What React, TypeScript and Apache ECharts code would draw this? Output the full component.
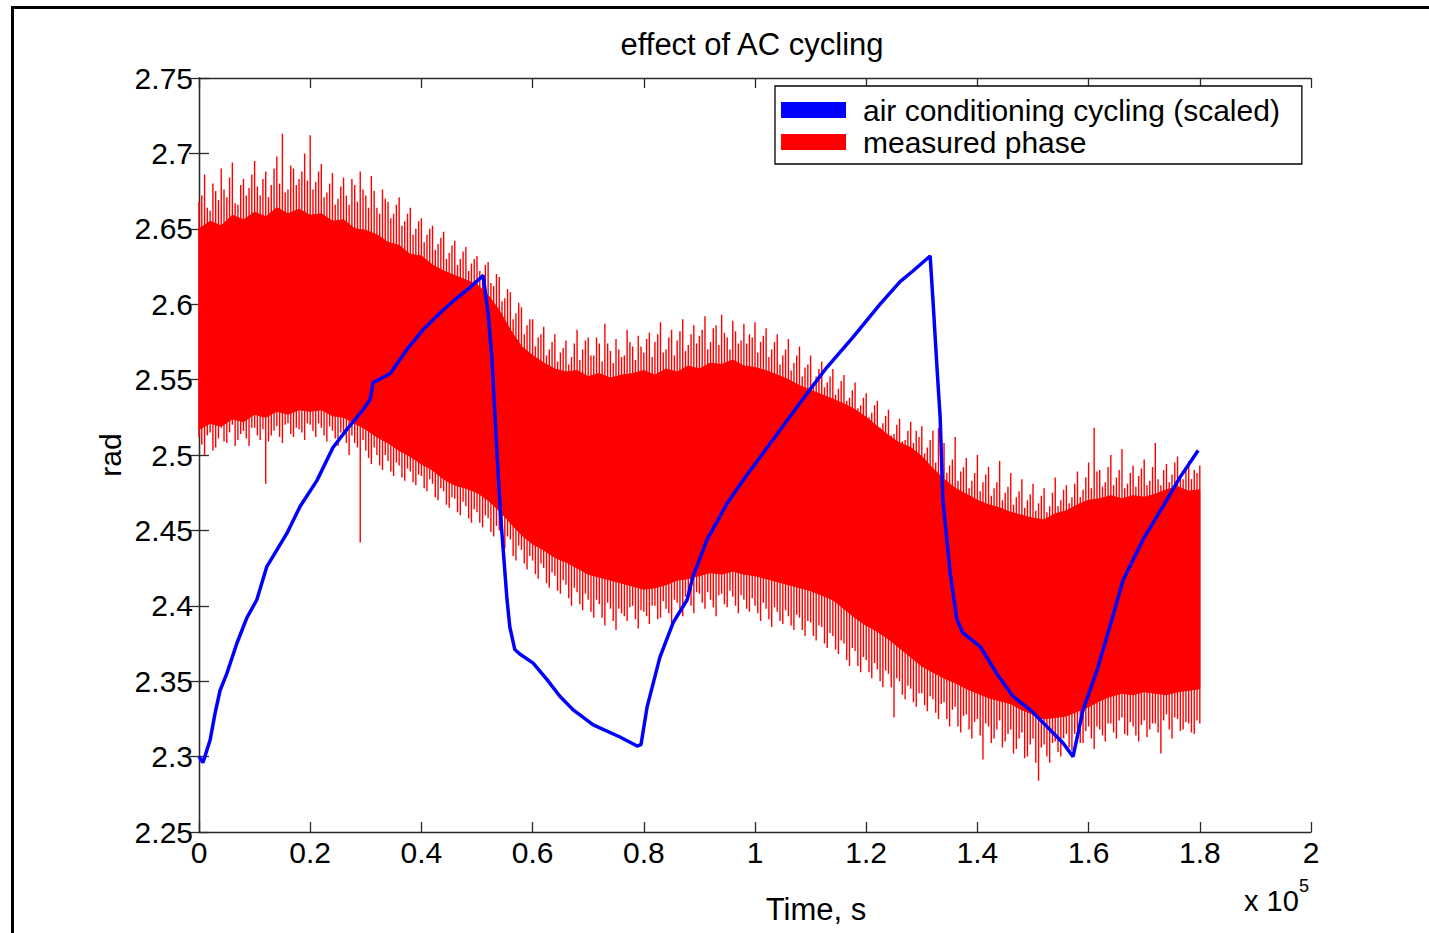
import { useEffect, useRef } from "react";
import * as echarts from "echarts";

const FONT = "'Liberation Sans', Arial, Helvetica, sans-serif";

// x values are in units of 1e5 s
const X_MIN = 0;
const X_MAX = 2;
const X_STEP = 0.2;
const Y_MIN = 2.25;
const Y_MAX = 2.75;
const Y_STEP = 0.05;

// Air conditioning cycling (scaled) — blue trace
const BLUE_T = [
  0.0, 0.007, 0.02, 0.029, 0.038, 0.05, 0.068, 0.086, 0.104, 0.122,
  0.158, 0.182, 0.212, 0.241, 0.266, 0.295, 0.308, 0.313, 0.344, 0.374,
  0.403, 0.433, 0.457, 0.487, 0.511, 0.52, 0.527, 0.536, 0.543, 0.554,
  0.559, 0.568, 0.577, 0.601, 0.626, 0.649, 0.673, 0.709, 0.757, 0.788,
  0.795, 0.806, 0.829, 0.853, 0.878, 0.888, 0.914, 0.95, 0.978, 1.022,
  1.058, 1.094, 1.129, 1.176, 1.225, 1.261, 1.284, 1.315, 1.32, 1.327,
  1.333, 1.338, 1.351, 1.363, 1.374, 1.405, 1.435, 1.464, 1.495, 1.525,
  1.554, 1.572, 1.59, 1.615, 1.638, 1.662, 1.698, 1.734, 1.764, 1.797,
];
const BLUE_V = [
  2.3, 2.296, 2.311, 2.329, 2.344, 2.355, 2.375, 2.392, 2.404, 2.426,
  2.448, 2.466, 2.483, 2.505, 2.517, 2.53, 2.537, 2.548, 2.554, 2.57,
  2.583, 2.594, 2.602, 2.611, 2.619, 2.594, 2.563, 2.501, 2.457, 2.404,
  2.386, 2.371, 2.368, 2.362, 2.351, 2.34, 2.331, 2.321, 2.313, 2.307,
  2.308, 2.333, 2.366, 2.389, 2.404, 2.419, 2.444, 2.468, 2.483, 2.505,
  2.523, 2.541, 2.558, 2.578, 2.6, 2.615, 2.622, 2.632, 2.603, 2.56,
  2.525, 2.47, 2.422, 2.391, 2.382, 2.373, 2.355, 2.34, 2.331, 2.32,
  2.309, 2.3, 2.331, 2.357, 2.386, 2.417, 2.444, 2.466, 2.485, 2.503,
];

// Measured phase — dense body of the oscillation, sampled every 0.02
const BODY_T = Array.from({ length: 91 }, (_, i) => +(i * 0.02).toFixed(2));
const BODY_TOP = [
  2.650, 2.655, 2.652, 2.659, 2.656, 2.661, 2.658, 2.664, 2.660, 2.663,
  2.659, 2.660, 2.655, 2.656, 2.650, 2.649, 2.646, 2.641, 2.639, 2.633,
  2.632, 2.626, 2.622, 2.619, 2.616, 2.613, 2.606, 2.596, 2.583, 2.572,
  2.566, 2.561, 2.557, 2.555, 2.556, 2.552, 2.554, 2.551, 2.553, 2.554,
  2.556, 2.553, 2.557, 2.555, 2.559, 2.557, 2.561, 2.560, 2.563, 2.559,
  2.558, 2.556, 2.553, 2.550, 2.546, 2.543, 2.540, 2.537, 2.534, 2.530,
  2.525, 2.519, 2.513, 2.508, 2.505, 2.499, 2.491, 2.484, 2.478, 2.474,
  2.470, 2.467, 2.465, 2.462, 2.460, 2.458, 2.457, 2.461, 2.463, 2.467,
  2.470, 2.471, 2.473, 2.471, 2.473, 2.472, 2.474, 2.477, 2.479, 2.476,
  2.477,
];
const BODY_BOT = [
  2.517, 2.521, 2.519, 2.524, 2.522, 2.527, 2.525, 2.529, 2.527, 2.530,
  2.529, 2.530, 2.526, 2.525, 2.521, 2.517, 2.512, 2.508, 2.503, 2.499,
  2.494, 2.490, 2.484, 2.480, 2.478, 2.475, 2.470, 2.463, 2.455, 2.447,
  2.441, 2.437, 2.432, 2.429, 2.425, 2.421, 2.419, 2.417, 2.415, 2.413,
  2.411, 2.412, 2.414, 2.417, 2.418, 2.420, 2.422, 2.421, 2.423, 2.421,
  2.420, 2.418, 2.416, 2.414, 2.412, 2.410, 2.407, 2.404, 2.398, 2.392,
  2.387, 2.383, 2.378, 2.372, 2.366, 2.360, 2.356, 2.352, 2.349, 2.345,
  2.342, 2.339, 2.337, 2.335, 2.331, 2.328, 2.325, 2.326, 2.327, 2.330,
  2.333, 2.337, 2.340, 2.342, 2.341, 2.343, 2.342, 2.341, 2.343, 2.344,
  2.345,
];

// Measured phase — oscillation extremes (spikes), sampled every 0.01
const SPIKE_T = Array.from({ length: 181 }, (_, i) => +(i * 0.01).toFixed(2));
const SPIKE_HI = [
  2.668, 2.686, 2.662, 2.675, 2.690, 2.671, 2.694, 2.666, 2.683, 2.677,
  2.695, 2.672, 2.688, 2.679, 2.698, 2.713, 2.676, 2.690, 2.683, 2.700,
  2.712, 2.681, 2.693, 2.674, 2.687, 2.670, 2.684, 2.666, 2.679, 2.688,
  2.672, 2.685, 2.664, 2.676, 2.668, 2.660, 2.671, 2.655, 2.664, 2.650,
  2.657, 2.646, 2.652, 2.640, 2.648, 2.634, 2.642, 2.630, 2.638, 2.627,
  2.632, 2.620, 2.628, 2.612, 2.618, 2.604, 2.608, 2.594, 2.598, 2.586,
  2.590, 2.578, 2.585, 2.570, 2.580, 2.568, 2.576, 2.565, 2.583, 2.570,
  2.578, 2.566, 2.574, 2.587, 2.569, 2.577, 2.565, 2.583, 2.572, 2.579,
  2.568, 2.581, 2.575, 2.588, 2.570, 2.583, 2.576, 2.590, 2.573, 2.586,
  2.579, 2.592, 2.575, 2.586, 2.593, 2.578, 2.589, 2.574, 2.587, 2.580,
  2.588, 2.575, 2.584, 2.570, 2.580, 2.566, 2.577, 2.561, 2.572, 2.558,
  2.566, 2.552, 2.562, 2.548, 2.557, 2.544, 2.553, 2.538, 2.548, 2.533,
  2.541, 2.528, 2.536, 2.521, 2.530, 2.514, 2.524, 2.510, 2.522, 2.516,
  2.519, 2.505, 2.516, 2.518, 2.508, 2.493, 2.512, 2.489, 2.498, 2.483,
  2.500, 2.482, 2.492, 2.478, 2.496, 2.475, 2.488, 2.472, 2.484, 2.470,
  2.481, 2.468, 2.478, 2.466, 2.485, 2.470, 2.480, 2.472, 2.489, 2.477,
  2.495, 2.518, 2.490, 2.482, 2.500, 2.485, 2.504, 2.481, 2.493, 2.486,
  2.497, 2.483, 2.508, 2.480, 2.494, 2.487, 2.499, 2.484, 2.496, 2.490,
  2.493,
];
const SPIKE_LO = [
  2.512, 2.500, 2.515, 2.505, 2.518, 2.508, 2.520, 2.510, 2.516, 2.506,
  2.518, 2.510, 2.481, 2.513, 2.519, 2.508, 2.521, 2.512, 2.517, 2.510,
  2.520, 2.512, 2.518, 2.509, 2.516, 2.506, 2.513, 2.500, 2.508, 2.442,
  2.503, 2.494, 2.500, 2.490, 2.496, 2.486, 2.493, 2.483, 2.489, 2.480,
  2.486, 2.476, 2.481, 2.470, 2.476, 2.465, 2.471, 2.460, 2.466, 2.455,
  2.462, 2.452, 2.458, 2.446, 2.450, 2.438, 2.444, 2.430, 2.437, 2.424,
  2.430, 2.418, 2.425, 2.412, 2.420, 2.408, 2.414, 2.400, 2.409, 2.397,
  2.404, 2.392, 2.401, 2.387, 2.398, 2.384, 2.395, 2.390, 2.400, 2.385,
  2.396, 2.388, 2.400, 2.392, 2.398, 2.386, 2.402, 2.393, 2.405, 2.395,
  2.408, 2.398, 2.404, 2.393, 2.408, 2.399, 2.406, 2.395, 2.404, 2.396,
  2.400, 2.390, 2.398, 2.386, 2.396, 2.388, 2.393, 2.384, 2.392, 2.380,
  2.389, 2.377, 2.386, 2.372, 2.380, 2.368, 2.375, 2.360, 2.370, 2.356,
  2.364, 2.352, 2.358, 2.346, 2.355, 2.326, 2.350, 2.338, 2.345, 2.333,
  2.342, 2.330, 2.338, 2.325, 2.336, 2.320, 2.333, 2.316, 2.328, 2.312,
  2.325, 2.298, 2.320, 2.312, 2.324, 2.310, 2.318, 2.305, 2.316, 2.300,
  2.312, 2.284, 2.308, 2.296, 2.310, 2.300, 2.315, 2.304, 2.318, 2.309,
  2.320, 2.305, 2.318, 2.310, 2.322, 2.312, 2.326, 2.314, 2.320, 2.310,
  2.324, 2.318, 2.322, 2.302, 2.328, 2.312, 2.325, 2.318, 2.322, 2.315,
  2.322,
];

// Measured phase — in-between oscillation extremes, at 0.005 + 0.01·k
const SPIKE2_T = Array.from({ length: 180 }, (_, i) => +(0.005 + i * 0.01).toFixed(3));
const SPIKE2_HI = [
  2.672, 2.664, 2.680, 2.669, 2.676, 2.684, 2.667, 2.679, 2.672, 2.686,
  2.678, 2.683, 2.671, 2.690, 2.680, 2.674, 2.692, 2.679, 2.688, 2.682,
  2.676, 2.688, 2.671, 2.680, 2.666, 2.678, 2.672, 2.683, 2.668, 2.676,
  2.664, 2.675, 2.660, 2.670, 2.657, 2.666, 2.652, 2.660, 2.646, 2.655,
  2.641, 2.650, 2.636, 2.644, 2.630, 2.639, 2.626, 2.635, 2.622, 2.630,
  2.622, 2.626, 2.614, 2.620, 2.602, 2.610, 2.590, 2.601, 2.580, 2.590,
  2.572, 2.580, 2.566, 2.575, 2.562, 2.571, 2.560, 2.574, 2.563, 2.576,
  2.566, 2.578, 2.562, 2.574, 2.561, 2.570, 2.566, 2.575, 2.563, 2.572,
  2.577, 2.565, 2.580, 2.568, 2.578, 2.566, 2.582, 2.569, 2.580, 2.574,
  2.583, 2.570, 2.584, 2.573, 2.581, 2.570, 2.582, 2.576, 2.574, 2.578,
  2.568, 2.579, 2.565, 2.575, 2.560, 2.570, 2.556, 2.566, 2.552, 2.560,
  2.548, 2.557, 2.545, 2.552, 2.540, 2.549, 2.536, 2.543, 2.531, 2.538,
  2.525, 2.533, 2.518, 2.526, 2.513, 2.520, 2.509, 2.516, 2.508, 2.512,
  2.501, 2.510, 2.495, 2.505, 2.488, 2.497, 2.483, 2.492, 2.478, 2.488,
  2.476, 2.487, 2.473, 2.482, 2.470, 2.479, 2.467, 2.476, 2.465, 2.474,
  2.463, 2.473, 2.462, 2.475, 2.466, 2.477, 2.468, 2.481, 2.472, 2.485,
  2.478, 2.489, 2.479, 2.492, 2.480, 2.490, 2.478, 2.488, 2.479, 2.491,
  2.480, 2.492, 2.484, 2.490, 2.482, 2.495, 2.486, 2.491, 2.484, 2.488,
];
const SPIKE2_LO = [
  2.507, 2.513, 2.503, 2.511, 2.509, 2.515, 2.506, 2.514, 2.511, 2.518,
  2.513, 2.517, 2.509, 2.516, 2.512, 2.520, 2.514, 2.518, 2.515, 2.521,
  2.516, 2.521, 2.513, 2.519, 2.511, 2.515, 2.508, 2.513, 2.505, 2.510,
  2.498, 2.505, 2.493, 2.500, 2.489, 2.495, 2.485, 2.491, 2.482, 2.487,
  2.478, 2.484, 2.472, 2.478, 2.467, 2.472, 2.462, 2.469, 2.458, 2.464,
  2.455, 2.460, 2.449, 2.453, 2.441, 2.446, 2.433, 2.440, 2.428, 2.433,
  2.421, 2.428, 2.415, 2.422, 2.410, 2.417, 2.405, 2.412, 2.401, 2.408,
  2.396, 2.404, 2.392, 2.402, 2.390, 2.398, 2.393, 2.399, 2.391, 2.397,
  2.393, 2.400, 2.391, 2.403, 2.395, 2.404, 2.398, 2.406, 2.400, 2.409,
  2.402, 2.409, 2.399, 2.407, 2.401, 2.410, 2.400, 2.407, 2.398, 2.405,
  2.395, 2.402, 2.391, 2.399, 2.390, 2.397, 2.387, 2.394, 2.384, 2.390,
  2.380, 2.387, 2.375, 2.382, 2.371, 2.377, 2.364, 2.372, 2.360, 2.366,
  2.356, 2.362, 2.350, 2.357, 2.346, 2.352, 2.341, 2.347, 2.336, 2.342,
  2.334, 2.340, 2.329, 2.335, 2.325, 2.331, 2.320, 2.327, 2.318, 2.323,
  2.314, 2.322, 2.309, 2.318, 2.306, 2.315, 2.302, 2.312, 2.299, 2.308,
  2.296, 2.306, 2.300, 2.309, 2.303, 2.312, 2.306, 2.315, 2.309, 2.317,
  2.312, 2.320, 2.314, 2.322, 2.316, 2.324, 2.315, 2.323, 2.314, 2.321,
  2.313, 2.322, 2.316, 2.324, 2.318, 2.326, 2.317, 2.323, 2.316, 2.324,
];

const TITLE = "effect of AC cycling";
const NAME_BLUE = "air conditioning cycling (scaled)";
const NAME_RED = "measured phase";
const BLUE = "#0000ff";
const RED = "#ff0000";
const AXIS_COLOR = "#2b2b2b";

export default function App() {
  const ref = useRef<HTMLDivElement>(null);

  useEffect(() => {
    if (!ref.current) return;
    const chart = echarts.init(ref.current, undefined, { renderer: "svg" });

    const axisLine = { show: true, lineStyle: { color: AXIS_COLOR, width: 1.3 } };
    const axisTick = { show: true, inside: true, length: 10, lineStyle: { color: AXIS_COLOR, width: 1.3 } };
    const fmtX = (v: number) => String(Math.round(v * 10) / 10);
    const fmtY = (v: number) => String(Math.round(v * 100) / 100);

    const bodyData = BODY_T.map((t, i) => [t, BODY_BOT[i], BODY_TOP[i]]);
    const spikeData = SPIKE_T.map((t, i) => [t, SPIKE_LO[i], SPIKE_HI[i]]).concat(
      SPIKE2_T.map((t, i) => [t, SPIKE2_LO[i], SPIKE2_HI[i]])
    );

    chart.setOption({
      animation: false,
      backgroundColor: "#ffffff",
      textStyle: { fontFamily: FONT },
      title: {
        text: TITLE,
        left: 747,
        top: 24,
        textAlign: "center",
        textStyle: { fontFamily: FONT, fontSize: 31, fontWeight: "normal", color: "#000" },
      },
      legend: {
        orient: "vertical",
        left: 775,
        top: 86,
        data: [
          { name: NAME_BLUE, icon: "rect", itemStyle: { color: BLUE } },
          { name: NAME_RED, icon: "rect", itemStyle: { color: RED } },
        ],
        itemWidth: 65,
        itemHeight: 16,
        itemGap: 2,
        padding: [9, 22, 7, 6],
        backgroundColor: "#ffffff",
        borderColor: "#000000",
        borderWidth: 1.3,
        borderRadius: 0,
        selectedMode: false,
        textStyle: { fontFamily: FONT, fontSize: 30, color: "#000", padding: [0, 0, 0, 12] },
      },
      grid: { left: 199, top: 78, width: 1112, height: 754, containLabel: false },
      xAxis: [
        {
          type: "value", min: X_MIN, max: X_MAX, interval: X_STEP, position: "bottom",
          axisLine, axisTick, splitLine: { show: false },
          axisLabel: { margin: 5, fontSize: 30, color: "#000", fontFamily: FONT, formatter: fmtX, showMinLabel: true, showMaxLabel: true },
        },
        {
          type: "value", min: X_MIN, max: X_MAX, interval: X_STEP, position: "top",
          axisLine, axisTick, splitLine: { show: false }, axisLabel: { show: false },
        },
      ],
      yAxis: [
        {
          type: "value", min: Y_MIN, max: Y_MAX, interval: Y_STEP, position: "left",
          axisLine, axisTick, splitLine: { show: false },
          axisLabel: { margin: 6, fontSize: 30, color: "#000", fontFamily: FONT, formatter: fmtY, showMinLabel: true, showMaxLabel: true },
        },
        {
          type: "value", min: Y_MIN, max: Y_MAX, interval: Y_STEP, position: "right",
          axisLine, axisTick, splitLine: { show: false }, axisLabel: { show: false },
        },
      ],
      graphic: [
        {
          type: "rect", left: 10, top: 5, z: 100,
          shape: { x: 0, y: 0, width: 1460, height: 960 },
          style: { fill: "none", stroke: "#000", lineWidth: 3 },
          silent: true,
        },
        {
          type: "text", x: 110, y: 455, rotation: Math.PI / 2,
          style: { text: "rad", fontFamily: FONT, fontSize: 30, fill: "#000", textAlign: "center", textVerticalAlign: "middle" },
        },
        {
          type: "text", x: 816, y: 909,
          style: { text: "Time, s", fontFamily: FONT, fontSize: 31, fill: "#000", textAlign: "center", textVerticalAlign: "middle" },
        },
        {
          type: "text", x: 1244, y: 901,
          style: { text: "x 10", fontFamily: FONT, fontSize: 29, fill: "#000", textAlign: "left", textVerticalAlign: "middle" },
        },
        {
          type: "text", x: 1299, y: 886,
          style: { text: "5", fontFamily: FONT, fontSize: 18, fill: "#000", textAlign: "left", textVerticalAlign: "middle" },
        },
      ],
      series: [
        {
          type: "custom",
          name: NAME_RED,
          coordinateSystem: "cartesian2d",
          xAxisIndex: 0,
          yAxisIndex: 0,
          itemStyle: { color: RED },
          data: bodyData,
          encode: { x: 0, y: [1, 2] },
          silent: true,
          renderItem: (params: any, api: any) => {
            if (params.dataIndex !== 0) return null;
            const pts: number[][] = [];
            for (let i = 0; i < bodyData.length; i++) pts.push(api.coord([bodyData[i][0], bodyData[i][2]]));
            for (let i = bodyData.length - 1; i >= 0; i--) pts.push(api.coord([bodyData[i][0], bodyData[i][1]]));
            return { type: "polygon", shape: { points: pts }, style: { fill: RED, stroke: RED, lineWidth: 1 } };
          },
        },
        {
          type: "custom",
          name: NAME_RED,
          coordinateSystem: "cartesian2d",
          xAxisIndex: 0,
          yAxisIndex: 0,
          itemStyle: { color: RED },
          data: spikeData,
          encode: { x: 0, y: [1, 2] },
          silent: true,
          renderItem: (params: any, api: any) => {
            const a = api.coord([api.value(0), api.value(1)]);
            const b = api.coord([api.value(0), api.value(2)]);
            return {
              type: "line",
              shape: { x1: a[0], y1: a[1], x2: b[0], y2: b[1] },
              style: { stroke: RED, lineWidth: 1.4 },
            };
          },
        },
        {
          type: "line",
          name: NAME_BLUE,
          xAxisIndex: 0,
          yAxisIndex: 0,
          data: BLUE_T.map((t, i) => [t, BLUE_V[i]]),
          showSymbol: false,
          symbol: "none",
          itemStyle: { color: BLUE },
          lineStyle: { color: BLUE, width: 3.5 },
          silent: true,
          z: 3,
        },
      ],
    });

    return () => chart.dispose();
  }, []);

  return (
    <div
      ref={ref}
      style={{ position: "fixed", left: 0, top: 0, width: 1429, height: 933, background: "#fff" }}
    />
  );
}
